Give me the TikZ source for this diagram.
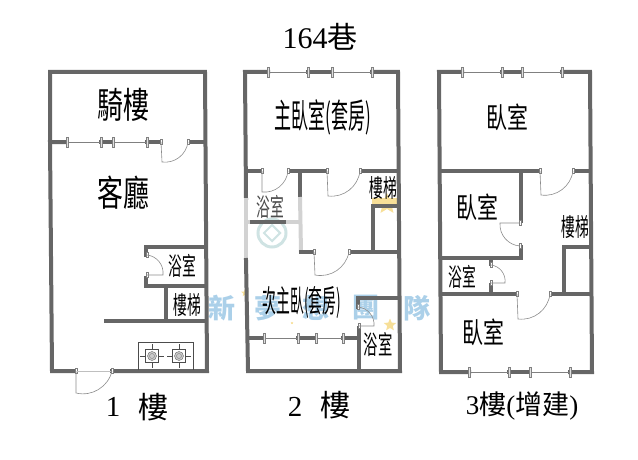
\documentclass[tikz,border=0pt]{standalone}
\usepackage{fontspec}
\setmainfont{Liberation Serif}
\newfontfamily\cjk{Noto Sans CJK TC}
\newfontfamily\cjkwide[FakeStretch=0.72]{Noto Sans CJK TC}
\newfontfamily\cjknarrow[FakeStretch=0.55]{Noto Sans CJK TC}
\newfontfamily\cjkslim[FakeStretch=0.5]{Noto Sans CJK TC}
\newfontfamily\cjkthin[FakeStretch=0.445]{Noto Sans CJK TC}
\usetikzlibrary{shapes.geometric}
\definecolor{wallgray}{HTML}{666666}
\definecolor{fadegray}{HTML}{D2D2D2}
\definecolor{markblue}{HTML}{ABD0E9}
\definecolor{marktint}{HTML}{CFE3E3}
\definecolor{stargold}{HTML}{F7DF98}

\begin{document}
\begin{tikzpicture}[
		x=1pt, y=-1pt
		,wall/.style={draw=wallgray, line width=4pt, line cap=rect}
		,faded/.style={draw=fadegray, line width=4pt}
		,glass/.style={draw=gray, line width=.5pt}
		,post/.style={draw=gray, fill=black!12, line width=.4pt, inner sep=0pt, minimum width=2.4pt, minimum height=10pt}
		,jamb/.style={draw=gray, fill=white, line width=.4pt, inner sep=0pt, minimum width=2pt, minimum height=5pt}
		,leaf/.style={draw=black!45, line width=.6pt}
		,bigtext/.style={inner sep=0pt, font=\cjkwide\fontsize{#1}{#1}\selectfont}
		,thintext/.style={inner sep=0pt, font=\cjknarrow\fontsize{#1}{#1}\selectfont}
		,serif/.style={inner sep=0pt, font=\fontsize{#1}{#1}\selectfont}
		,floorword/.style={inner sep=0pt, font=\cjk\fontsize{30}{30}\selectfont}
		,logo/.style={inner sep=0pt, text=markblue, font=\cjk\bfseries\fontsize{27}{27}\selectfont}
		,gold/.style={star, star points=5, star point ratio=2.2, fill=stargold, inner sep=0pt}
	]
		\useasboundingbox (0,0) rectangle (638,460);

		\node [logo] (m1) at (222,308) {新};
		\node [logo] (m2) at (268,308) {夢};
		\node [logo] (m3) at (316,308) {想};
		\node [logo] (m4) at (366,308) {團};
		\node [logo] (m5) at (417,308) {隊};
		\node [circle, draw=marktint, line width=3pt, minimum size=28pt, inner sep=0pt] (seal) at (272,233) {};
		\node [diamond, draw=marktint, line width=2pt, minimum size=17pt, inner sep=0pt] (sealin) at (272,233) {};
		\node [gold, minimum size=13pt] (s1) at (390,325) {};
		\node [gold, minimum size=8pt] (s2) at (245,293) {};
		\node [gold, minimum size=22pt] (s3) at (387,204) {};
		\node [gold, minimum size=3pt] (s4) at (292,323) {};
		\fill [stargold] (372,198) rectangle (398,205);

		% 1F
		\draw [wall] (66,142) -- (50,142) -- (50,72) -- (205,72) -- (207,371) -- (112,371);
		\draw [wall] (50,142) -- (52,371) -- (75,371);
		\draw [wall] (101,142) -- (113,142);
		\draw [wall] (147,142) -- (159,142);
		\draw [wall] (190,142) -- (205,142);
		\draw [wall] (146,255) -- (146,247) -- (205,247);
		\draw [wall] (146,278) -- (146,286) -- (206,286);
		\draw [wall] (166,286) -- (166,320);
		\draw [wall] (106,321) -- (206,321);
		\draw [draw=black!70, line width=.5pt] (138,370) |- (193,342) -- (193,370);
		\foreach \x [count=\i] in {152,179} {
			\draw [draw=black!70, line width=.5pt] (\x-12,356) -- (\x+12,356) (\x,344) -- (\x,368);
			\node [draw=black!70, fill=white, line width=.5pt, minimum size=13pt, inner sep=0pt] (pan\i) at (\x,356) {};
			\node [circle, draw=black!60, fill=black!20, minimum size=9pt, inner sep=0pt] (fire\i) at (\x,356) {};
			\node [circle, draw=black!50, minimum size=5pt, inner sep=0pt] (core\i) at (\x,356) {};
		}

		% 2F
		\draw [wall] (261,171) -- (246,171);
		\draw [wall] (246,198) -- (245,72) -- (268,72);
		\draw [faded] (246,198) -- (246,260);
		\draw [wall] (246,260) -- (248,371) -- (400,371) -- (398,72) -- (372,72);
		\draw [wall] (308,72) -- (332,72);
		\draw [wall] (289,171) -- (326,171);
		\draw [wall] (362,171) -- (398,171);
		\draw [wall] (300,171) -- (300,197);
		\draw [faded] (300,197) -- (301,252);
		\draw [wall] (301,252) -- (311,252);
		\draw [wall] (352,252) -- (398,252);
		\draw [faded] (247,222) -- (252,222);
		\draw [wall] (252,222) -- (286,222);
		\draw [faded] (286,222) -- (300,222);
		\draw [wall] (373,252) -- (373,206) -- (398,206);
		\draw [wall] (358,307) -- (358,298) -- (399,298);
		\draw [wall] (359,328) -- (359,370);
		\draw [wall] (248,338) -- (264,338);
		\draw [wall] (298,338) -- (316,338);
		\draw [wall] (343,338) -- (358,338);

		% 3F
		\draw [wall] (462,72) -- (439,72) -- (441,372) -- (469,372);
		\draw [wall] (502,72) -- (522,72);
		\draw [wall] (562,72) -- (590,72) -- (592,372) -- (570,372);
		\draw [wall] (509,372) -- (530,372);
		\draw [wall] (440,171) -- (538,171);
		\draw [wall] (575,171) -- (590,171);
		\draw [wall] (521,171) -- (521,221);
		\draw [wall] (521,247) -- (521,258) -- (441,258);
		\draw [wall] (491,258) -- (491,264);
		\draw [wall] (491,285) -- (491,294);
		\draw [wall] (441,294) -- (515,294);
		\draw [wall] (553,294) -- (591,294);
		\draw [wall] (564,294) -- (564,247) -- (590,247);

		\foreach \xa/\xb/\yy [count=\i] in {
				67/101/142, 113/147/142
				,268/308/72, 332/372/72, 264/298/338, 316/343/338
				,462/502/72, 522/562/72, 469/509/372, 530/570/372
			} {
			\node [post] (wa\i) at (\xa,\yy) {};
			\node [post] (wb\i) at (\xb,\yy) {};
			\draw [glass] (wa\i) -- (wb\i);
		}

		\foreach \hx/\hy/\tx/\ty/\ex/\ey [count=\i] in {
				161/142/162/162/188/142, 147/275/163/275/147/255, 76/371/76/393/112/371
				,262/171/262/192/288/171, 327/171/328/196/360/171, 314/252/315/275/349/252, 359/326/374/326/358/307
				,540/171/541/195/573/171, 520/223/500/223/520/246, 491/283/505/283/491/265, 517/294/518/319/550/294
			} {
			\node [jamb] (ha\i) at (\hx,\hy) {};
			\node [jamb] (ea\i) at (\ex,\ey) {};
			\coordinate (tip\i) at (\tx,\ty);
			\draw [leaf] (ha\i.center) -- (tip\i) to[bend right=45] (ea\i.center);
		}
		\draw [draw=black!25, line width=.5pt] (ha3) -- (ea3);

		\node [bigtext=36] (arcade) at (123,105) {騎樓};
		\node [bigtext=36] (living) at (123,193) {客廳};
		\node [thintext=25] (bath1) at (182,266) {浴室};
		\node [thintext=25] (stair1) at (187,305) {樓梯};
		\node [inner sep=0pt, font=\cjkslim\fontsize{34}{34}\selectfont] (master) at (323,117) {主臥室(套房)};
		\node [thintext=25] (stair2) at (383,188) {樓梯};
		\node [thintext=25, text=black!70] (bath2) at (270,207) {浴室};
		\node [inner sep=0pt, font=\cjkthin\fontsize{31}{31}\selectfont] (second) at (302,303) {次主臥(套房)};
		\node [thintext=26] (bath3) at (378,345) {浴室};
		\node [bigtext=29] (bed1) at (507,117) {臥室};
		\node [bigtext=29] (bed2) at (477,207) {臥室};
		\node [thintext=25] (stair3) at (575,227) {樓梯};
		\node [thintext=25] (bath4) at (462,277) {浴室};
		\node [bigtext=29] (bed3) at (483,332) {臥室};

		\node [serif=30] (lane) at (320,37) {164{\cjk 巷}};
		\node [serif=29] (one) at (113,407) {1};
		\node [floorword] (oneF) at (153,407) {樓};
		\node [serif=29] (two) at (295,407) {2};
		\node [floorword] (twoF) at (335,405) {樓};
		\node [serif=27] (three) at (522,406) {3{\cjk 樓}({\cjk 增建})};
	\end{tikzpicture}
\end{document}
